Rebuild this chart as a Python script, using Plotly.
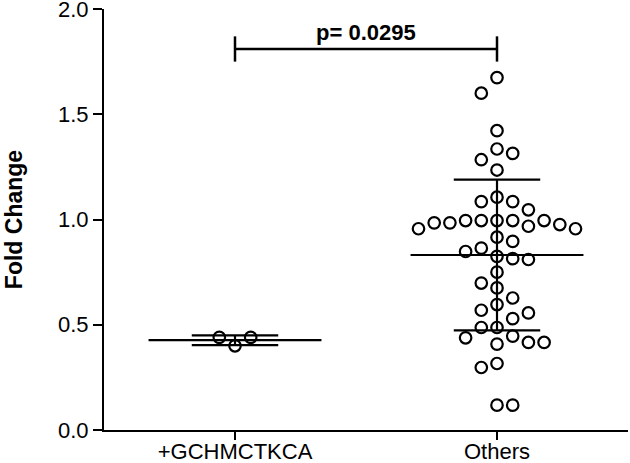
import numpy as np
import plotly.graph_objects as go

# ---------------- data ----------------
categories = ["+GCHMCTKCA", "Others"]
group_a = [0.40, 0.44, 0.44]
group_b = [1.674, 1.600, 1.422, 1.335, 1.314, 1.284, 1.235,
           1.106, 1.085, 1.085, 1.046,
           0.995, 0.995, 0.995, 0.995, 0.995, 0.984, 0.984, 0.976, 0.968, 0.956, 0.956,
           0.916, 0.896, 0.864, 0.848, 0.825, 0.814, 0.810,
           0.750,
           0.698, 0.675, 0.627, 0.596, 0.569, 0.556, 0.529,
           0.487, 0.487, 0.446, 0.438, 0.416, 0.416, 0.408,
           0.316, 0.297, 0.118, 0.118]
p_label = "p= 0.0295"
y_ticks = [0.0, 0.5, 1.0, 1.5, 2.0]
y_tick_labels = ["%.1f" % t for t in y_ticks]

# ---------------- layout constants ----------------
W, H = 630, 463
ML, MR, MT, MB = 104, 2, 9, 33
X_RANGE = [-0.5, 1.5]
Y_RANGE = [0, 2]
px_per_x = (W - ML - MR) / (X_RANGE[1] - X_RANGE[0])
px_per_y = (H - MT - MB) / (Y_RANGE[1] - Y_RANGE[0])
DOT = 15.7  # swarm spacing in pixels
FONT = "Arial, Liberation Sans, sans-serif"


def swarm(values):
    """Simple beeswarm: place each point nearest to the centre without
    overlapping earlier points (rectangular collision, pixel units)."""
    placed, out, side = [], [], -1
    for v in values:
        y = v * px_per_y
        conf = [x for x, yy in placed if abs(yy - y) < DOT - 1e-9]
        cands = {0.0}
        for x in conf:
            cands.add(x + DOT)
            cands.add(x - DOT)
        valid = [c for c in cands if all(abs(c - x) >= DOT - 1e-6 for x in conf)]
        best = min(abs(c) for c in valid)
        opts = [c for c in valid if abs(abs(c) - best) < 1e-6]
        if len(opts) > 1:
            c = side * best
            side = -side
        else:
            c = opts[0]
        placed.append((c, y))
        out.append(c / px_per_x)
    return out


fig = go.Figure()

groups = [group_a, group_b]
for i, vals in enumerate(groups):
    offs = swarm(vals)
    fig.add_trace(go.Scatter(
        x=[i + o for o in offs], y=vals, mode="markers",
        marker=dict(symbol="circle-open", size=11.5, color="black",
                    line=dict(width=2.2, color="black")),
        showlegend=False, hoverinfo="y", cliponaxis=False))

# mean and SD lines
MEAN_HW = 0.33
SD_HW = 0.165
for i, vals in enumerate(groups):
    m = float(np.mean(vals))
    s = float(np.std(vals, ddof=1))
    xs = [i - MEAN_HW, i + MEAN_HW, None,
          i, i, None,
          i - SD_HW, i + SD_HW, None,
          i - SD_HW, i + SD_HW]
    ys = [m, m, None,
          m - s, m + s, None,
          m + s, m + s, None,
          m - s, m - s]
    fig.add_trace(go.Scatter(x=xs, y=ys, mode="lines",
                             line=dict(color="black", width=2.2),
                             showlegend=False, hoverinfo="skip"))

# significance bracket
BR_Y = 1.81
BR_TICK = 0.06
fig.add_trace(go.Scatter(
    x=[0, 1, None, 0, 0, None, 1, 1],
    y=[BR_Y, BR_Y, None, BR_Y - BR_TICK, BR_Y + BR_TICK, None, BR_Y - BR_TICK, BR_Y + BR_TICK],
    mode="lines", line=dict(color="black", width=2.5),
    showlegend=False, hoverinfo="skip"))
fig.add_annotation(x=0.5, y=BR_Y + 0.08, text="<b>%s</b>" % p_label,
                   showarrow=False, xanchor="center", yanchor="middle",
                   font=dict(family=FONT, size=22, color="black"))

fig.update_layout(
    width=W, height=H,
    margin=dict(l=ML, r=MR, t=MT, b=MB, pad=0, autoexpand=False),
    plot_bgcolor="white", paper_bgcolor="white",
    font=dict(family=FONT, color="black"),
    xaxis=dict(range=X_RANGE, tickvals=[0, 1], ticktext=categories,
               ticks="outside", ticklen=8, tickwidth=2, tickcolor="black",
               showline=True, linewidth=2, linecolor="black",
               showgrid=False, zeroline=False, automargin=False,
               ticklabeloverflow="allow", ticklabelstandoff=-7,
               tickfont=dict(family=FONT, size=22, color="black")),
    yaxis=dict(range=Y_RANGE, tickvals=y_ticks, ticktext=y_tick_labels,
               ticks="outside", ticklen=9, tickwidth=2, tickcolor="black",
               showline=True, linewidth=2, linecolor="black",
               showgrid=False, zeroline=False, automargin=False,
               ticklabeloverflow="allow",
               tickfont=dict(family=FONT, size=22, color="black"),
               title=dict(text="<b>Fold Change</b>", standoff=29,
                          font=dict(family=FONT, size=23, color="black"))),
)

fig.write_html("out.html",
               config={"displayModeBar": False},
               post_script="document.body.style.margin='0px';"
                           "document.body.style.overflow='hidden';")
